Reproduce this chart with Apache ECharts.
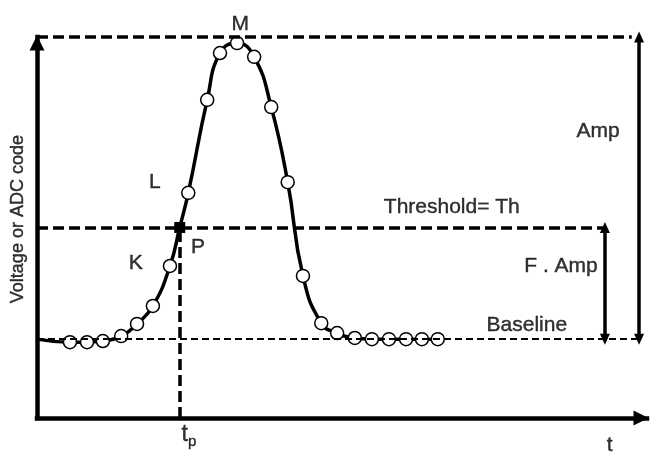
<!DOCTYPE html>
<html>
<head>
<meta charset="utf-8">
<script src="https://cdn.jsdelivr.net/npm/echarts@6/dist/echarts.min.js"></script>
<style>html,body{margin:0;padding:0;background:#fff}#c{width:660px;height:472px}</style>
</head>
<body>
<div id="c"></div>
<script>
// Sample points (time, voltage)
const sampleT = [5.4, 8.2, 10.8, 13.8, 16.4, 19.0, 21.8, 24.8, 27.9, 30.0, 32.8, 35.6, 38.4, 41.1, 43.6, 46.6, 49.2, 52.1, 54.9, 57.7, 60.5, 63.1, 65.7];
const sampleV = [19.9, 19.9, 20.2, 21.5, 24.7, 29.4, 39.9, 59.1, 83.5, 95.8, 98.4, 94.8, 81.6, 61.9, 37.3, 24.9, 22.3, 21.0, 20.7, 20.7, 20.7, 20.7, 20.7];
// Curve start (before first sample)
const startT = 0, startV = 20.7;
// Threshold crossing point P
const pT = 23.4, pV = 50;
// Levels
const baseline = 20.7, threshold = 50, peak = 100;
const topLineEnd = 97.5, thLineEnd = 93.1, baseLineEnd = 98.7;
const ampX = 98.7, fAmpX = 93.1;
// Text annotations
const labelNames = ['M', 'Amp', 'Threshold= Th', 'L', 'K', 'P', 'F . Amp', 'Baseline', 'tp', 't', 'Voltage or ADC code'];
const labelT = [33.3, 92.0, 68.0, 19.3, 16.2, 26.4, 85.9, 80.3, 24.9, 93.9, -3.1];
const labelV = [103.4, 75.3, 55.4, 61.9, 40.7, 44.9, 39.9, 24.4, -4.5, -7.1, 52.2];

const FONT = 'Liberation Sans';

const curve = [[startT, startV]];
sampleT.forEach((t, i) => {
  if (i === 7) curve.push([pT, pV]);
  curve.push([t, sampleV[i]]);
});

const thick = { color: '#000', width: 3.5, type: [11, 5] };
const thin = { color: '#000', width: 2, type: [7, 4] };
const solid = { color: '#000', width: 3.5, type: 'solid' };
const arrowSize = [10, 11];

const axisCommon = {
  type: 'value', min: 0, max: 100,
  axisLine: { show: true, onZero: false, symbol: ['none', 'triangle'], symbolSize: [15, 15], symbolOffset: [0, -6], lineStyle: { color: '#000', width: 4.5, cap: 'square' } },
  axisTick: { show: false }, axisLabel: { show: false }, splitLine: { show: false }
};

const chart = echarts.init(document.getElementById('c'), null, { renderer: 'canvas' });
chart.setOption({
  animation: false,
  backgroundColor: '#fff',
  grid: { left: 37, right: 13, top: 37, bottom: 54, containLabel: false },
  xAxis: axisCommon,
  yAxis: axisCommon,
  series: [
    {
      type: 'line', z: 1, data: [[startT, baseline]], showSymbol: false, silent: true,
      lineStyle: { opacity: 0 },
      markLine: {
        silent: true, animation: false, symbol: 'none', label: { show: false },
        data: [
          [{ coord: [0, peak], lineStyle: thick }, { coord: [topLineEnd, peak] }],
          [{ coord: [0, threshold], lineStyle: thick }, { coord: [thLineEnd, threshold] }],
          [{ coord: [pT, 0], lineStyle: thick }, { coord: [pT, threshold] }],
          [{ coord: [0, baseline], lineStyle: thin }, { coord: [baseLineEnd, baseline] }],
          [{ coord: [ampX, peak], lineStyle: solid, symbol: 'triangle', symbolSize: arrowSize }, { coord: [ampX, baseline], symbol: 'triangle', symbolSize: arrowSize }],
          [{ coord: [fAmpX, threshold], lineStyle: solid, symbol: 'triangle', symbolSize: arrowSize }, { coord: [fAmpX, baseline], symbol: 'triangle', symbolSize: arrowSize }]
        ]
      }
    },
    {
      type: 'line', z: 3, data: curve, smooth: true, showSymbol: false, silent: true,
      lineStyle: { color: '#000', width: 3.5 }
    },
    {
      type: 'scatter', z: 4, silent: true,
      data: sampleT.map((t, i) => [t, sampleV[i]]),
      symbol: 'circle', symbolSize: 13,
      itemStyle: { color: '#fff', borderColor: '#000', borderWidth: 1.5, opacity: 1 }
    },
    {
      type: 'scatter', z: 5, silent: true,
      data: [[pT, pV]], symbol: 'rect', symbolSize: 11,
      itemStyle: { color: '#000', opacity: 1 }
    },
    {
      type: 'scatter', z: 6, silent: true, clip: false,
      symbolSize: 1, itemStyle: { color: 'rgba(0,0,0,0)' },
      data: labelNames.map((n, i) => ({
        name: n, value: [labelT[i], labelV[i]],
        label: n === 'Voltage or ADC code' ? { rotate: 90, fontSize: 18 } : {}
      })),
      label: {
        show: true, position: 'inside', color: '#000', fontFamily: FONT, fontSize: 21,
        textBorderColor: '#000', textBorderWidth: 0.4,
        formatter: p => p.name === 'tp' ? '{a|t}{b|p}' : p.name,
        rich: {
          a: { fontSize: 23, fontFamily: FONT, color: '#000', textBorderColor: '#000', textBorderWidth: 0.4 },
          b: { fontSize: 15, fontFamily: FONT, color: '#000', textBorderColor: '#000', textBorderWidth: 0.4, padding: [13, 0, 0, 0] }
        }
      }
    }
  ]
});
</script>
</body>
</html>
